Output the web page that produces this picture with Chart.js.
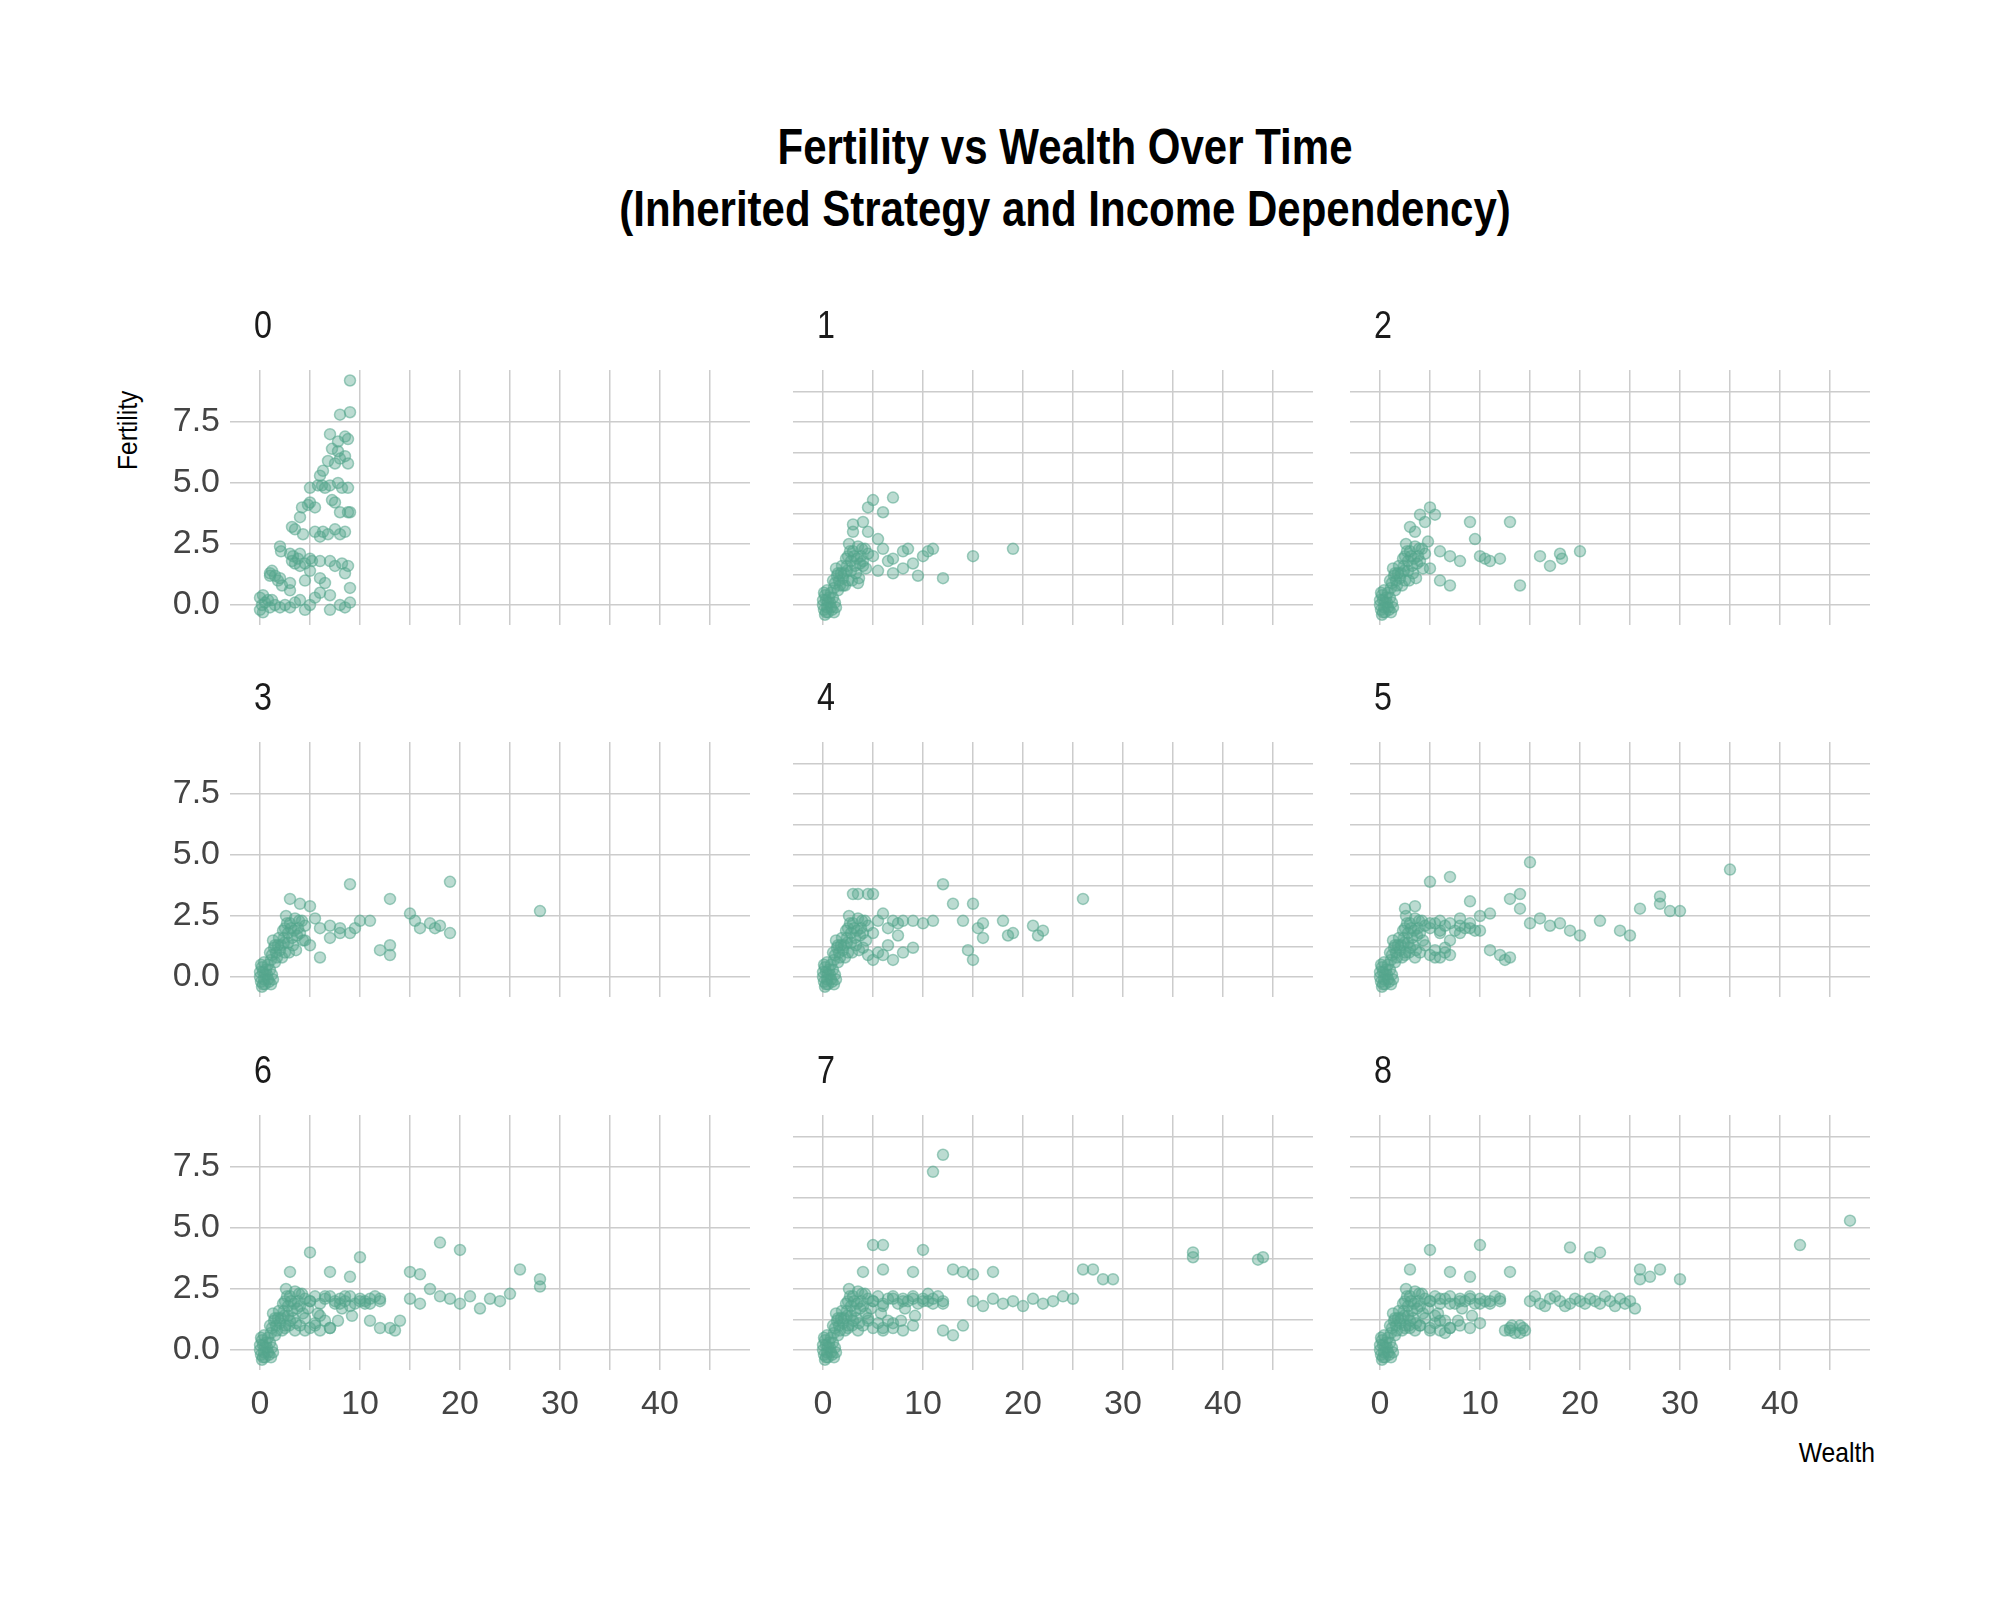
<!DOCTYPE html>
<html>
<head>
<meta charset="utf-8">
<script src="https://cdn.jsdelivr.net/npm/chart.js@4.4.0/dist/chart.umd.min.js"></script>
<style>
  body { margin: 0; background: #fff; width: 2000px; height: 1600px; position: relative; overflow: hidden;
         font-family: 'Liberation Sans', sans-serif; }
  .title { position: absolute; left: 0; width: 2130px; text-align: center; font-weight: bold; font-size: 50px; color: #000; transform: scaleX(0.84); transform-origin: 1065px 0; }
  .facet { position: absolute; font-size: 38px; color: #1a1a1a; transform: scaleX(0.85); transform-origin: left top; }
  canvas { position: absolute; }
  .lab { position: absolute; font-size: 28px; color: #000; }
</style>
</head>
<body>
<div class="title" style="top:118px">Fertility vs Wealth Over Time</div>
<div class="title" style="top:180px">(Inherited Strategy and Income Dependency)</div>
<div class="lab" style="left:112px;top:470px;transform:rotate(-90deg) scaleX(0.88);transform-origin:left top;">Fertility</div>
<div class="lab" style="left:1760px;top:1437px;width:115px;text-align:right;transform:scaleX(0.88);transform-origin:right top;">Wealth</div>
<script>
// shared dense cluster near the origin (all generations after 0)
const originCluster = [[0,0],[0.1,-0.2],[0.3,0.2],[0.5,-0.3],[0.2,0.4],[0.7,0.1],[0.9,-0.2],[1,0.3],[0.4,-0.1],[0.6,0.3],
  [0.8,0.5],[1.2,0.9],[1.4,1.2],[1.1,0.7],[1.6,1.0],[1.8,1.3],[1.3,1.5],[2,1.1],[2.2,0.8],[1.5,0.6],[1.9,1.6],[2.4,1.4],[1,1.0],[0.2,-0.4],[1.1,-0.3],
  [0,0.2],[0.3,-0.3],[0.5,0.1],[0.8,-0.1],[1.2,0.1],[1.5,1.3],[1.7,0.8],[2.1,1.3],[2.5,1.0],[0.1,0.5],[0.4,0.6],[1.3,-0.1]];
const midCluster = [[2.5,2.0],[2.8,1.8],[3,2.2],[3.2,1.6],[3.5,2.4],[2.6,2.5],[3.8,2.0],[4,1.8],[3.3,1.3],[2.9,1.0],[4.2,2.3],[3.6,1.1],[2.3,1.9],[4.5,2.1],
  [2.7,2.2],[3.1,2.0],[3.4,1.9],[2.4,1.6],[3.9,2.3],[4.3,1.5],[2.8,1.4],[3.7,1.7]];
const bandCluster = [[2.5,0.9],[3,1.2],[3.5,0.8],[4,1.0],[4.5,1.3],[5,0.9],[5.5,1.1],[6,0.8],[6.5,1.2],[7,0.9],[5,2.0],[5.5,2.2],[6,1.9],[6.5,2.1],[7,2.2],
  [7.5,1.9],[8,2.1],[8.5,2.0],[9,2.2],[9.5,1.9],[10,2.1],[10.5,2.0],[11,1.9],[11.5,2.2],[12,2.0],[4.8,1.7],[5.8,1.5],[8.2,1.7],[9.2,1.4],[7.8,1.2]];

const gen0 = [[0,0.3],[0,-0.2],[0.2,0],[0.5,0.1],[1,-0.1],[1.2,0.2],[0.3,0.4],[1.5,0],[2,-0.1],[0.8,0.2],[0.3,-0.3],[2.5,0],[3,-0.1],[3.5,0.1],[4.5,-0.2],[4,0.2],[5,0],
  [1,1.3],[1.2,1.4],[1.5,1.2],[2,1.1],[1.8,1.0],[1,1.2],[2.2,0.8],[3,0.6],[3,0.9],[2,2.4],[2.1,2.2],[3,2.1],[3.3,2.0],[3.8,1.9],[4,2.1],[3.5,1.7],[3.2,1.8],[4.5,1.7],[4,1.6],[5,1.9],[5.2,1.8],
  [3.2,3.2],[3.5,3.1],[4,3.6],[4.2,4.0],[4.8,4.1],[5,4.2],[5.5,4.0],[4.3,2.9],[5.5,3.0],[6,2.8],[6.3,3.0],[6.8,2.9],[7.5,3.1],[8,2.9],[8.5,3.0],[6,1.8],[6,1.1],[5,1.4],[4.5,1.0],[6.5,0.9],
  [6,0.5],[5.5,0.3],[7,0.4],[7,1.8],[7.5,1.6],[8.2,1.7],[8.8,1.6],[8.5,1.3],[9,0.7],[9,0.1],[7,-0.2],[8,0.0],[8.5,-0.1],[5,4.8],[5.8,4.9],[6.2,4.9],[6.5,4.8],[7,4.9],[7.8,5.0],[8.2,4.8],[8.8,4.8],
  [9,3.8],[8.8,3.8],[8,3.8],[7.2,4.3],[7.5,4.2],[6,5.3],[6.3,5.5],[6.8,5.9],[7.5,5.8],[8,6.0],[8.5,6.1],[7.8,6.3],[7.2,6.4],[7.8,6.7],[8.5,6.9],[8.8,5.8],[7,7.0],[8,7.8],[9,7.9],[9,9.2],[8.8,6.8]];
const gen1 = originCluster.concat(midCluster, [[4,3.4],[4.5,4.0],[5,4.3],[6,3.8],[7,4.4],[4.5,3.0],[5.5,2.7],[6.5,1.8],[6,2.3],[7,1.9],[8,2.2],[8.5,2.3],[9,1.7],[10,2.0],[10.5,2.2],[11,2.3],
  [9.5,1.2],[12,1.1],[15,2.0],[19,2.3],[8,1.5],[5,2.0],[4,1.6],[3,3.0],[3,3.3],[3.5,0.9],[2,0.8],[5.5,1.4],[7,1.3]]);
const gen2 = originCluster.concat(midCluster, [[4,3.7],[5,4.0],[4.5,3.4],[3,3.2],[3.5,3.0],[5.5,3.7],[9,3.4],[13,3.4],[9.5,2.7],[10,2.0],[10.5,1.9],[11,1.8],[12,1.9],[14,0.8],[16,2.0],
  [17,1.6],[18,2.1],[18.2,1.9],[20,2.2],[6,1.0],[7,0.8],[6,2.2],[7,2.0],[8,1.8],[5,1.5],[4.8,2.6]]);
const gen3 = originCluster.concat(midCluster, [[3,3.2],[4,3.0],[5,2.9],[6,2.0],[7,2.1],[8,1.8],[9,3.8],[9,1.8],[9.5,2.0],[10,2.3],[11,2.3],[6,0.8],[5,1.3],[12,1.1],[13,0.9],[13,1.3],[13,3.2],
  [15,2.6],[15.5,2.3],[16,2.0],[17,2.2],[17.5,2.0],[18,2.1],[19,3.9],[19,1.8],[28,2.7],[7,1.6],[8,2.0],[4.5,1.5],[5.5,2.4]]);
const gen4 = originCluster.concat(midCluster, [[3,3.4],[3.5,3.4],[4.5,3.4],[5,3.4],[5.5,2.3],[6,2.6],[6.5,2.0],[7,2.3],[7.5,1.7],[8,2.3],[9,1.2],[10,2.2],[11,2.3],[12,3.8],[13,3.0],[14,2.3],
  [14.5,1.1],[15,3.0],[15,0.7],[15.5,2.0],[16,2.2],[16,1.6],[18,2.3],[18.5,1.7],[19,1.8],[21,2.1],[21.5,1.7],[22,1.9],[26,3.2],[5,0.7],[6,0.9],[7,0.7],[8,1.0],[9,2.3],[5,1.8],
  [4,1.2],[4.5,0.9],[5.5,1.0],[6.5,1.3],[7.5,2.2]]);
const gen5 = originCluster.concat(midCluster, bandCluster.slice(0, 20), [[2.5,2.8],[3.5,2.9],[5,3.9],[7,4.1],[5,2.2],[6,2.3],[6.5,1.0],[7,1.5],[8,2.4],[9,3.1],[10,2.5],[11,2.6],[11,1.1],[12,0.9],[12.5,0.7],[13,0.8],
  [13,3.2],[14,3.4],[14,2.8],[15,4.7],[15,2.2],[16,2.4],[17,2.1],[18,2.2],[19,1.9],[20,1.7],[22,2.3],[24,1.9],[25,1.7],[26,2.8],[28,3.3],[28,3.0],[29,2.7],[30,2.7],[35,4.4],
  [8,1.8],[9,2.0],[10,1.9],[5.5,0.8],[6,1.8]]);
const gen6 = originCluster.concat(midCluster, bandCluster, [[3,3.2],[5,4.0],[5,2.0],[6,1.4],[6.5,2.2],[7,3.2],[7,0.9],[8,1.9],[8.5,2.2],[9,3.0],[9,1.8],[10,3.8],[10,2.0],[10.5,1.9],[11,2.1],[11,1.2],
  [12,0.9],[12,2.1],[13,0.9],[13.5,0.8],[14,1.2],[15,3.2],[16,3.1],[15,2.1],[16,1.9],[17,2.5],[18,4.4],[18,2.2],[19,2.1],[20,4.1],[20,1.9],[21,2.2],[22,1.7],[23,2.1],[24,2.0],[25,2.3],
  [26,3.3],[28,2.9],[28,2.6],[5.5,1.0],[4.5,0.8],[7.5,2.0]]);
const gen7 = originCluster.concat(midCluster, bandCluster, [[5,4.3],[6,4.3],[10,4.1],[11,7.3],[12,8.0],[4,3.2],[6,3.3],[9,3.2],[13,3.3],[14,3.2],[15,3.1],[17,3.2],[13,0.6],[12,0.8],[14,1.0],
  [5,2.0],[6,1.8],[7,2.1],[8,2.0],[9,2.1],[10,2.0],[11,2.1],[12,1.9],[6,0.9],[7,1.1],[8,0.8],[9,1.0],[15,2.0],[16,1.8],[17,2.1],[18,1.9],[19,2.0],[20,1.8],[21,2.1],[22,1.9],[23,2.0],[24,2.2],
  [25,2.1],[26,3.3],[27,3.3],[28,2.9],[29,2.9],[37,4.0],[37,3.8],[43.5,3.7],[44,3.8],[4.5,1.2],[10.5,2.3]]);
const gen8 = originCluster.concat(midCluster, bandCluster, [[5,4.1],[10,4.3],[3,3.3],[7,3.2],[9,3.0],[13,3.2],[19,4.2],[21,3.8],[22,4.0],[26,3.3],[27,3.0],[28,3.3],[30,2.9],[42,4.3],[47,5.3],
  [3,0.9],[4,1.0],[5,0.8],[6,1.2],[7,0.9],[5.5,1.4],[6.5,0.7],[5,2.0],[6,2.1],[7,1.9],[8,2.0],[9,2.1],[10,1.9],[11,2.0],[12,2.1],[12.5,0.8],[13,0.9],[13.5,0.7],[14,1.0],[14.5,0.8],
  [15,2.0],[16,1.9],[17,2.1],[18,2.0],[19,1.9],[20,2.0],[21,2.1],[22,1.9],[23,2.0],[24,2.1],[25,2.0],[25.5,1.7],[26,2.9],[8,1.0],[9,0.9],[10,1.1],
  [15.5,2.2],[16.5,1.8],[17.5,2.2],[18.5,1.8],[19.5,2.1],[20.5,1.9],[21.5,2.0],[22.5,2.2],[23.5,1.8],[24.5,1.9],[13,0.8],[14,0.7],[13.2,1.0],[14.3,0.9]]);
const generations = [gen0, gen1, gen2, gen3, gen4, gen5, gen6, gen7, gen8];
const facetLabels = ['0','1','2','3','4','5','6','7','8'];
const xGrid = [0,5,10,15,20,25,30,35,40,45];
const xLabels = [0,10,20,30,40];
const yGrid = [0,1.25,2.5,3.75,5,6.25,7.5,8.75];
const yLabels = [0,2.5,5,7.5];

const plotLefts = [230, 793, 1350];
const plotTops = [370, 742, 1115];
const plotW = 527, plotH = 255, axW = 110, axH = 70, padTop = 30;

generations.forEach((pts, i) => {
  const col = i % 3, row = Math.floor(i / 3);
  const cv = document.createElement('canvas');
  const left = plotLefts[col] - axW, top = plotTops[row] - padTop;
  cv.style.left = left + 'px'; cv.style.top = top + 'px';
  cv.style.width = (plotW + axW) + 'px'; cv.style.height = (plotH + axH + padTop) + 'px';
  cv.width = plotW + axW; cv.height = plotH + axH + padTop;
  document.body.appendChild(cv);

  const f = document.createElement('div');
  f.className = 'facet';
  f.textContent = facetLabels[i];
  f.style.left = (plotLefts[col] + 24) + 'px';
  f.style.top = (plotTops[row] - 66) + 'px';
  document.body.appendChild(f);

  new Chart(cv, {
    type: 'scatter',
    data: { datasets: [{
      data: pts.map(p => ({ x: p[0], y: p[1] })),
      backgroundColor: 'rgba(84,165,140,0.4)',
      borderColor: 'rgba(84,165,140,0.55)',
      borderWidth: 1.5,
      pointRadius: 5.5
    }]},
    options: {
      responsive: false, animation: false,
      layout: { padding: { top: padTop, left: 0, right: 0, bottom: 0 } },
      plugins: { legend: { display: false }, tooltip: { enabled: false } },
      scales: {
        x: {
          type: 'linear', min: -3, max: 49,
          border: { display: false },
          grid: { color: '#cccccc', lineWidth: 1.5, drawTicks: false },
          afterBuildTicks: s => { s.ticks = xGrid.map(v => ({ value: v })); },
          afterFit: s => { s.height = axH; },
          ticks: {
            display: row === 2, padding: 14, color: '#444',
            font: { family: "'Liberation Sans', sans-serif", size: 34 },
            callback: v => xLabels.includes(v) ? String(v) : ''
          }
        },
        y: {
          type: 'linear', min: -0.82, max: 9.63,
          border: { display: false },
          grid: { color: '#cccccc', lineWidth: 1.5, drawTicks: false },
          afterBuildTicks: s => { s.ticks = yGrid.map(v => ({ value: v })); },
          afterFit: s => { s.width = axW; s.paddingTop = 0; s.paddingBottom = 0; },
          ticks: {
            display: col === 0, padding: 10, color: '#444',
            font: { family: "'Liberation Sans', sans-serif", size: 34 },
            callback: v => yLabels.includes(v) ? v.toFixed(1) : ''
          }
        }
      }
    }
  });
});
</script>
</body>
</html>
